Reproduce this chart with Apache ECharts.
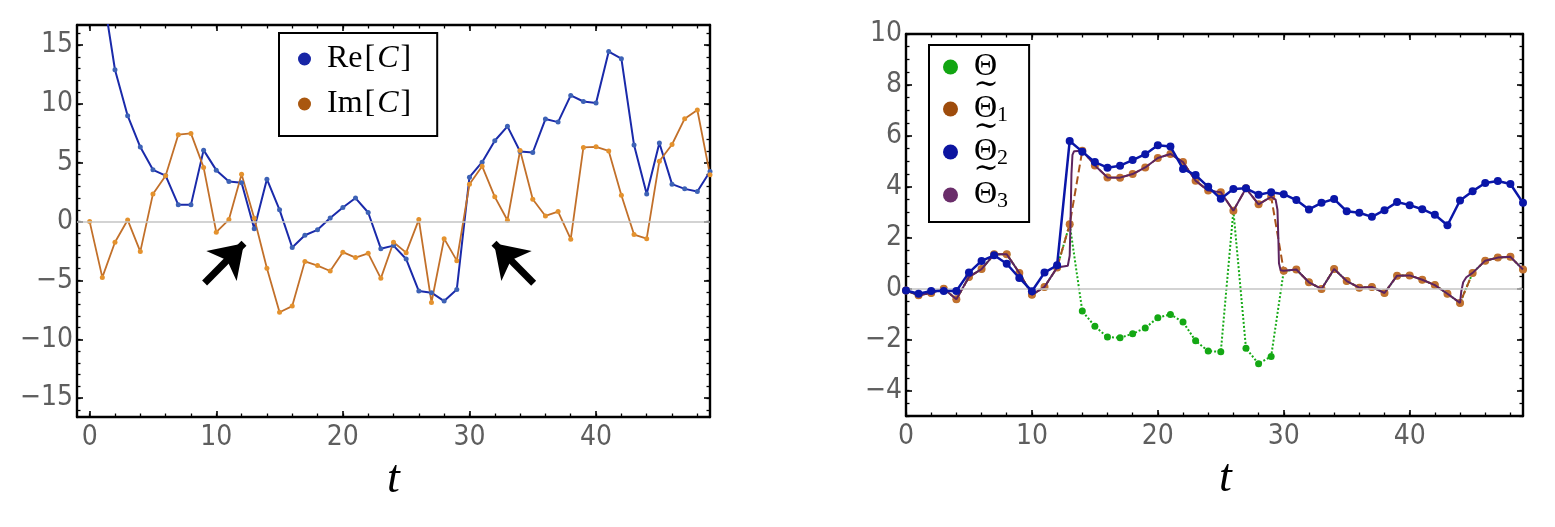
<!DOCTYPE html>
<html>
<head>
<meta charset="utf-8">
<script src="https://cdn.jsdelivr.net/npm/echarts@6/dist/echarts.min.js"></script>
<style>
html, body { margin: 0; padding: 0; background: #fff; }
#chart { width: 1555px; height: 527px; }
</style>
</head>
<body>
<div id="chart"></div>
<script>
// time steps shared by both panels
var tValues = [0, 1, 2, 3, 4, 5, 6, 7, 8, 9, 10, 11, 12, 13, 14, 15, 16, 17, 18, 19,
               20, 21, 22, 23, 24, 25, 26, 27, 28, 29, 30, 31, 32, 33, 34, 35, 36, 37, 38, 39,
               40, 41, 42, 43, 44, 45, 46, 47, 48, 49];

// left panel
var reC = [30, 19.8, 12.9, 9.0, 6.33, 4.4, 3.9, 1.42, 1.42, 6.07,
           4.37, 3.4, 3.3, -0.6, 3.6, 1.0, -2.2, -1.16, -0.7, 0.3,
           1.2, 2.0, 0.77, -2.3, -2.04, -3.18, -5.9, -6.04, -6.75, -5.76,
           3.77, 5.05, 6.87, 8.09, 5.96, 5.87, 8.71, 8.45, 10.72, 10.2,
           10.07, 14.44, 13.84, 6.5, 2.35, 6.67, 3.18, 2.78, 2.55, 4.26];
var imC = [0, -4.74, -1.76, 0.14, -2.55, 2.35, 3.9, 7.38, 7.49, 4.6,
           -0.9, 0.17, 4.03, 0.28, -3.97, -7.7, -7.18, -3.38, -3.74, -4.2,
           -2.6, -3.06, -2.7, -4.82, -1.76, -2.64, 0.17, -6.87, -1.45, -3.32,
           3.18, 4.71, 2.1, 0.11, 6.04, 1.9, 0.48, 0.85, -1.5, 6.3,
           6.35, 6.0, 2.24, -1.1, -1.45, 5.13, 6.55, 8.74, 9.48, 3.97];
// arrows: [tail, tip] in data units
var arrows = [[[9.08, -5.22], [12.19, -1.84]], [[35.07, -5.24], [31.94, -1.84]]];

// right panel
var theta = [-0.07, -0.26, -0.17, 0.0, -0.42, 0.46, 0.77, 1.35, 1.35, 0.62,
             -0.24, 0.07, 0.83, 2.53, -0.88, -1.48, -1.9, -1.93, -1.77, -1.54,
             -1.14, -1.01, -1.31, -2.05, -2.45, -2.48, 3.06, -2.34, -2.95, -2.66,
             0.7, 0.75, 0.25, -0.01, 0.77, 0.3, 0.04, 0.07, -0.17, 0.51,
             0.52, 0.35, 0.14, -0.2, -0.56, 0.62, 1.1, 1.22, 1.25, 0.75];
var theta1 = [-0.07, -0.26, -0.17, 0.0, -0.42, 0.46, 0.77, 1.35, 1.35, 0.62,
              -0.24, 0.07, 0.83, 2.53, 5.42, 4.84, 4.37, 4.36, 4.5, 4.76,
              5.13, 5.29, 4.97, 4.24, 3.85, 3.79, 3.06, 3.94, 3.31, 3.61,
              0.7, 0.75, 0.25, -0.01, 0.77, 0.3, 0.04, 0.07, -0.17, 0.51,
              0.52, 0.35, 0.14, -0.2, -0.56, 0.62, 1.1, 1.22, 1.25, 0.75];
var theta2 = [-0.07, -0.2, -0.09, -0.09, -0.09, 0.63, 1.09, 1.31, 0.98, 0.42,
              -0.1, 0.63, 0.92, 5.8, 5.38, 4.97, 4.75, 4.83, 5.05, 5.28,
              5.63, 5.58, 4.7, 4.46, 4.0, 3.53, 3.91, 3.94, 3.69, 3.79,
              3.71, 3.48, 3.11, 3.37, 3.52, 3.04, 2.98, 2.82, 3.08, 3.4,
              3.28, 3.12, 2.9, 2.49, 3.46, 3.83, 4.15, 4.23, 4.11, 3.37];
// theta3 is a continuous curve, read at finer t near its jumps
var theta3 = [[0, -0.07], [1, -0.26], [2, -0.17], [3, 0.0], [4, -0.42], [5, 0.46], [6, 0.77],
              [7, 1.35], [8, 1.35], [9, 0.62], [10, -0.24], [11, 0.07], [12, 0.83], [12.85, 0.9],
              [13.0, 1.3], [13.06, 2.5], [13.14, 4.5], [13.22, 5.25], [13.35, 5.4], [14, 5.42],
              [15, 4.84], [16, 4.37], [17, 4.36], [18, 4.5], [19, 4.76], [20, 5.13], [21, 5.29],
              [22, 4.97], [23, 4.24], [24, 3.85], [25, 3.79], [26, 3.06], [27, 3.94], [28, 3.31],
              [29, 3.61], [29.35, 3.5], [29.5, 3.1], [29.57, 2.0], [29.62, 1.0], [29.75, 0.72],
              [30, 0.7], [31, 0.75], [32, 0.25], [33, -0.01], [34, 0.77], [35, 0.3], [36, 0.04],
              [37, 0.07], [38, -0.17], [39, 0.51], [40, 0.52], [41, 0.35], [42, 0.14], [43, -0.2],
              [44, -0.56], [44.1, -0.1], [44.25, 0.25], [44.5, 0.45], [45, 0.62], [46, 1.1],
              [47, 1.22], [48, 1.25], [49, 0.75]];

// tick labels
var leftXTicks = [0, 10, 20, 30, 40];
var leftYTicks = [-15, -10, -5, 0, 5, 10, 15];
var rightXTicks = [0, 10, 20, 30, 40];
var rightYTicks = [-4, -2, 0, 2, 4, 6, 8, 10];

var thetaNames = ['\u0398', '\u0398\u03031', '\u0398\u03032', '\u0398\u03033'];

function range(a, b, step) {
    var out = [];
    for (var v = a; v <= b + 1e-9; v += step) out.push(Math.round(v * 100) / 100);
    return out;
}
function pairs(ys) {
    return tValues.map(function (t, i) { return [t, ys[i]]; });
}

var sansFont = "'Liberation Sans Narrow', 'DejaVu Sans Condensed', 'Liberation Sans', sans-serif";
var serifFont = "'Liberation Serif', 'DejaVu Serif', serif";
var labelColor = '#5e5e5e';

function axisPair(gridIndex, position, min, max, major, minor, withLabels, name, nameShift) {
    var main = {
        gridIndex: gridIndex, type: 'value', position: position, min: min, max: max,
        axisLine: { show: true, onZero: false, lineStyle: { color: '#000', width: 2.4 } },
        axisTick: { show: true, inside: true, length: 6, customValues: major,
                    lineStyle: { color: '#000', width: 1.6 } },
        axisLabel: withLabels ? {
            show: true, customValues: major, margin: position === 'bottom' ? 7 : 4,
            color: labelColor, fontFamily: sansFont, fontSize: 28,
            formatter: function (v) { return String(v).replace('-', '\u2212'); }
        } : { show: false },
        splitLine: { show: false }
    };
    if (name) {
        main.name = name;
        main.nameLocation = 'middle';
        main.nameGap = 36;
        main.nameTextStyle = { fontFamily: serifFont, fontStyle: 'italic', fontSize: 46, color: '#000',
                               padding: [0, 0, 0, nameShift || 0] };
    }
    var sub = {
        gridIndex: gridIndex, type: 'value', position: position, min: min, max: max,
        axisLine: { show: false, onZero: false },
        axisTick: { show: true, inside: true, length: 3.5, customValues: minor,
                    lineStyle: { color: '#000', width: 1.3 } },
        axisLabel: { show: false },
        splitLine: { show: false }
    };
    return [main, sub];
}

var xAxes = [].concat(
    axisPair(0, 'bottom', -1, 49, leftXTicks, range(0, 48, 2), true, 't'),
    axisPair(0, 'top', -1, 49, leftXTicks, range(0, 48, 2), false),
    axisPair(1, 'bottom', 0, 49, rightXTicks, range(0, 48, 2), true, 't', 22),
    axisPair(1, 'top', 0, 49, rightXTicks, range(0, 48, 2), false)
);
var yAxes = [].concat(
    axisPair(0, 'left', -16.6, 16.7, leftYTicks, range(-16, 16, 1), true),
    axisPair(0, 'right', -16.6, 16.7, leftYTicks, range(-16, 16, 1), false),
    axisPair(1, 'left', -5, 10, rightYTicks, range(-5, 10, 0.5), true),
    axisPair(1, 'right', -5, 10, rightYTicks, range(-5, 10, 0.5), false)
);

function zeroLine(xi, yi) {
    return {
        type: 'line', xAxisIndex: xi, yAxisIndex: yi, data: [], z: 1, silent: true,
        markLine: {
            silent: true, symbol: ['none', 'none'], label: { show: false },
            lineStyle: { color: '#c4c4c4', width: 1.5, type: 'solid' },
            emphasis: { disabled: true },
            data: [{ yAxis: 0 }]
        }
    };
}

function lineSeries(name, data, xi, yi, color, dotColor, width, dotSize, lineType, z) {
    return {
        name: name, type: 'line', xAxisIndex: xi, yAxisIndex: yi, data: data, z: z || 2,
        showSymbol: dotSize > 0, symbol: dotSize > 0 ? 'circle' : 'none', symbolSize: dotSize,
        itemStyle: { color: dotColor, borderWidth: 0 },
        lineStyle: { color: color, width: width, type: lineType || 'solid' },
        emphasis: { disabled: true }
    };
}

var imSeries = lineSeries('Im[C]', pairs(imC), 0, 0, '#c2702a', '#e4922e', 1.8, 5);
imSeries.markLine = {
    silent: true, symbol: ['none', 'arrow'], symbolSize: 32, label: { show: false },
    lineStyle: { color: '#000', width: 7, type: 'solid' },
    emphasis: { disabled: true },
    data: arrows.map(function (a) { return [{ coord: a[0] }, { coord: a[1] }]; })
};

var legendRich = {
    g: { width: 11, lineHeight: 34 },
    r: { fontFamily: serifFont, fontSize: 32, lineHeight: 34, color: '#000' },
    b: { fontFamily: serifFont, fontSize: 32, lineHeight: 34, color: '#000', padding: [0, 2, 0, 2] },
    i: { fontFamily: serifFont, fontStyle: 'italic', fontSize: 32, lineHeight: 34, color: '#000' },
    s: { fontFamily: serifFont, fontSize: 22, lineHeight: 16, verticalAlign: 'bottom', color: '#000' }
};

// tilde accents above the Θ of rows 2..4 of the right legend
var tildeMarks = thetaNames.slice(1).map(function (n, i) {
    return {
        type: 'text', x: 986, y: 85 + 42 * i, z: 100, silent: true,
        style: { text: '\u223c', fontFamily: "'DejaVu Serif', serif", fontSize: 30,
                 align: 'center', verticalAlign: 'middle', fill: '#000' }
    };
});

var chart = echarts.init(document.getElementById('chart'), null, { renderer: 'canvas' });
chart.setOption({
    backgroundColor: '#fff',
    animation: false,
    grid: [
        { left: 77, top: 25, width: 633, height: 392, containLabel: false, outerBoundsMode: 'none' },
        { left: 906, top: 34, width: 617, height: 382, containLabel: false, outerBoundsMode: 'none' }
    ],
    xAxis: xAxes,
    yAxis: yAxes,
    legend: [
        {
            left: 279, top: 33, orient: 'vertical', icon: 'circle', itemWidth: 13, itemHeight: 13,
            itemGap: 13, padding: [10, 24, 16, 19], selectedMode: false,
            borderColor: '#000', borderWidth: 2, backgroundColor: '#fff',
            itemStyle: { borderWidth: 0 },
            data: [{ name: 'Re[C]', itemStyle: { color: '#1826a6' } },
                   { name: 'Im[C]', itemStyle: { color: '#a9570f' } }],
            formatter: function (n) {
                return '{g|}{r|' + n.slice(0, 2) + '}{b|[}{i|C}{b|]}';
            },
            textStyle: { rich: legendRich }
        },
        {
            left: 929, top: 45, orient: 'vertical', icon: 'circle', itemWidth: 15, itemHeight: 15,
            itemGap: 10, padding: [6, 21, 10, 14], selectedMode: false,
            borderColor: '#000', borderWidth: 2, backgroundColor: '#fff',
            itemStyle: { borderWidth: 0 },
            data: [{ name: thetaNames[0], itemStyle: { color: '#12a512' } },
                   { name: thetaNames[1], itemStyle: { color: '#9e4c0c' } },
                   { name: thetaNames[2], itemStyle: { color: '#0c14a0' } },
                   { name: thetaNames[3], itemStyle: { color: '#6a2d6a' } }],
            formatter: function (n) {
                if (n.length === 1) return '{g|}{r|' + n + '}';
                return '{g|}{r|' + n.charAt(0) + '}{s|' + n.slice(2) + '}';
            },
            textStyle: { rich: legendRich }
        }
    ],
    graphic: tildeMarks,
    series: [
        zeroLine(0, 0),
        lineSeries('Re[C]', pairs(reC), 0, 0, '#1a2aaa', '#3d62b6', 2, 5),
        imSeries,
        zeroLine(4, 4),
        lineSeries(thetaNames[0], pairs(theta), 4, 4, '#16aa16', '#14a814', 2, 7, 'dotted', 2),
        lineSeries(thetaNames[1], pairs(theta1), 4, 4, '#a9541a', '#c2712f', 2, 8, 'dashed', 3),
        lineSeries(thetaNames[3], theta3, 4, 4, '#5c2460', '#6a2d6a', 2, 0, 'solid', 4),
        lineSeries(thetaNames[2], pairs(theta2), 4, 4, '#0a16a8', '#0a16a8', 2.5, 8, 'solid', 5)
    ]
});
</script>
</body>
</html>
